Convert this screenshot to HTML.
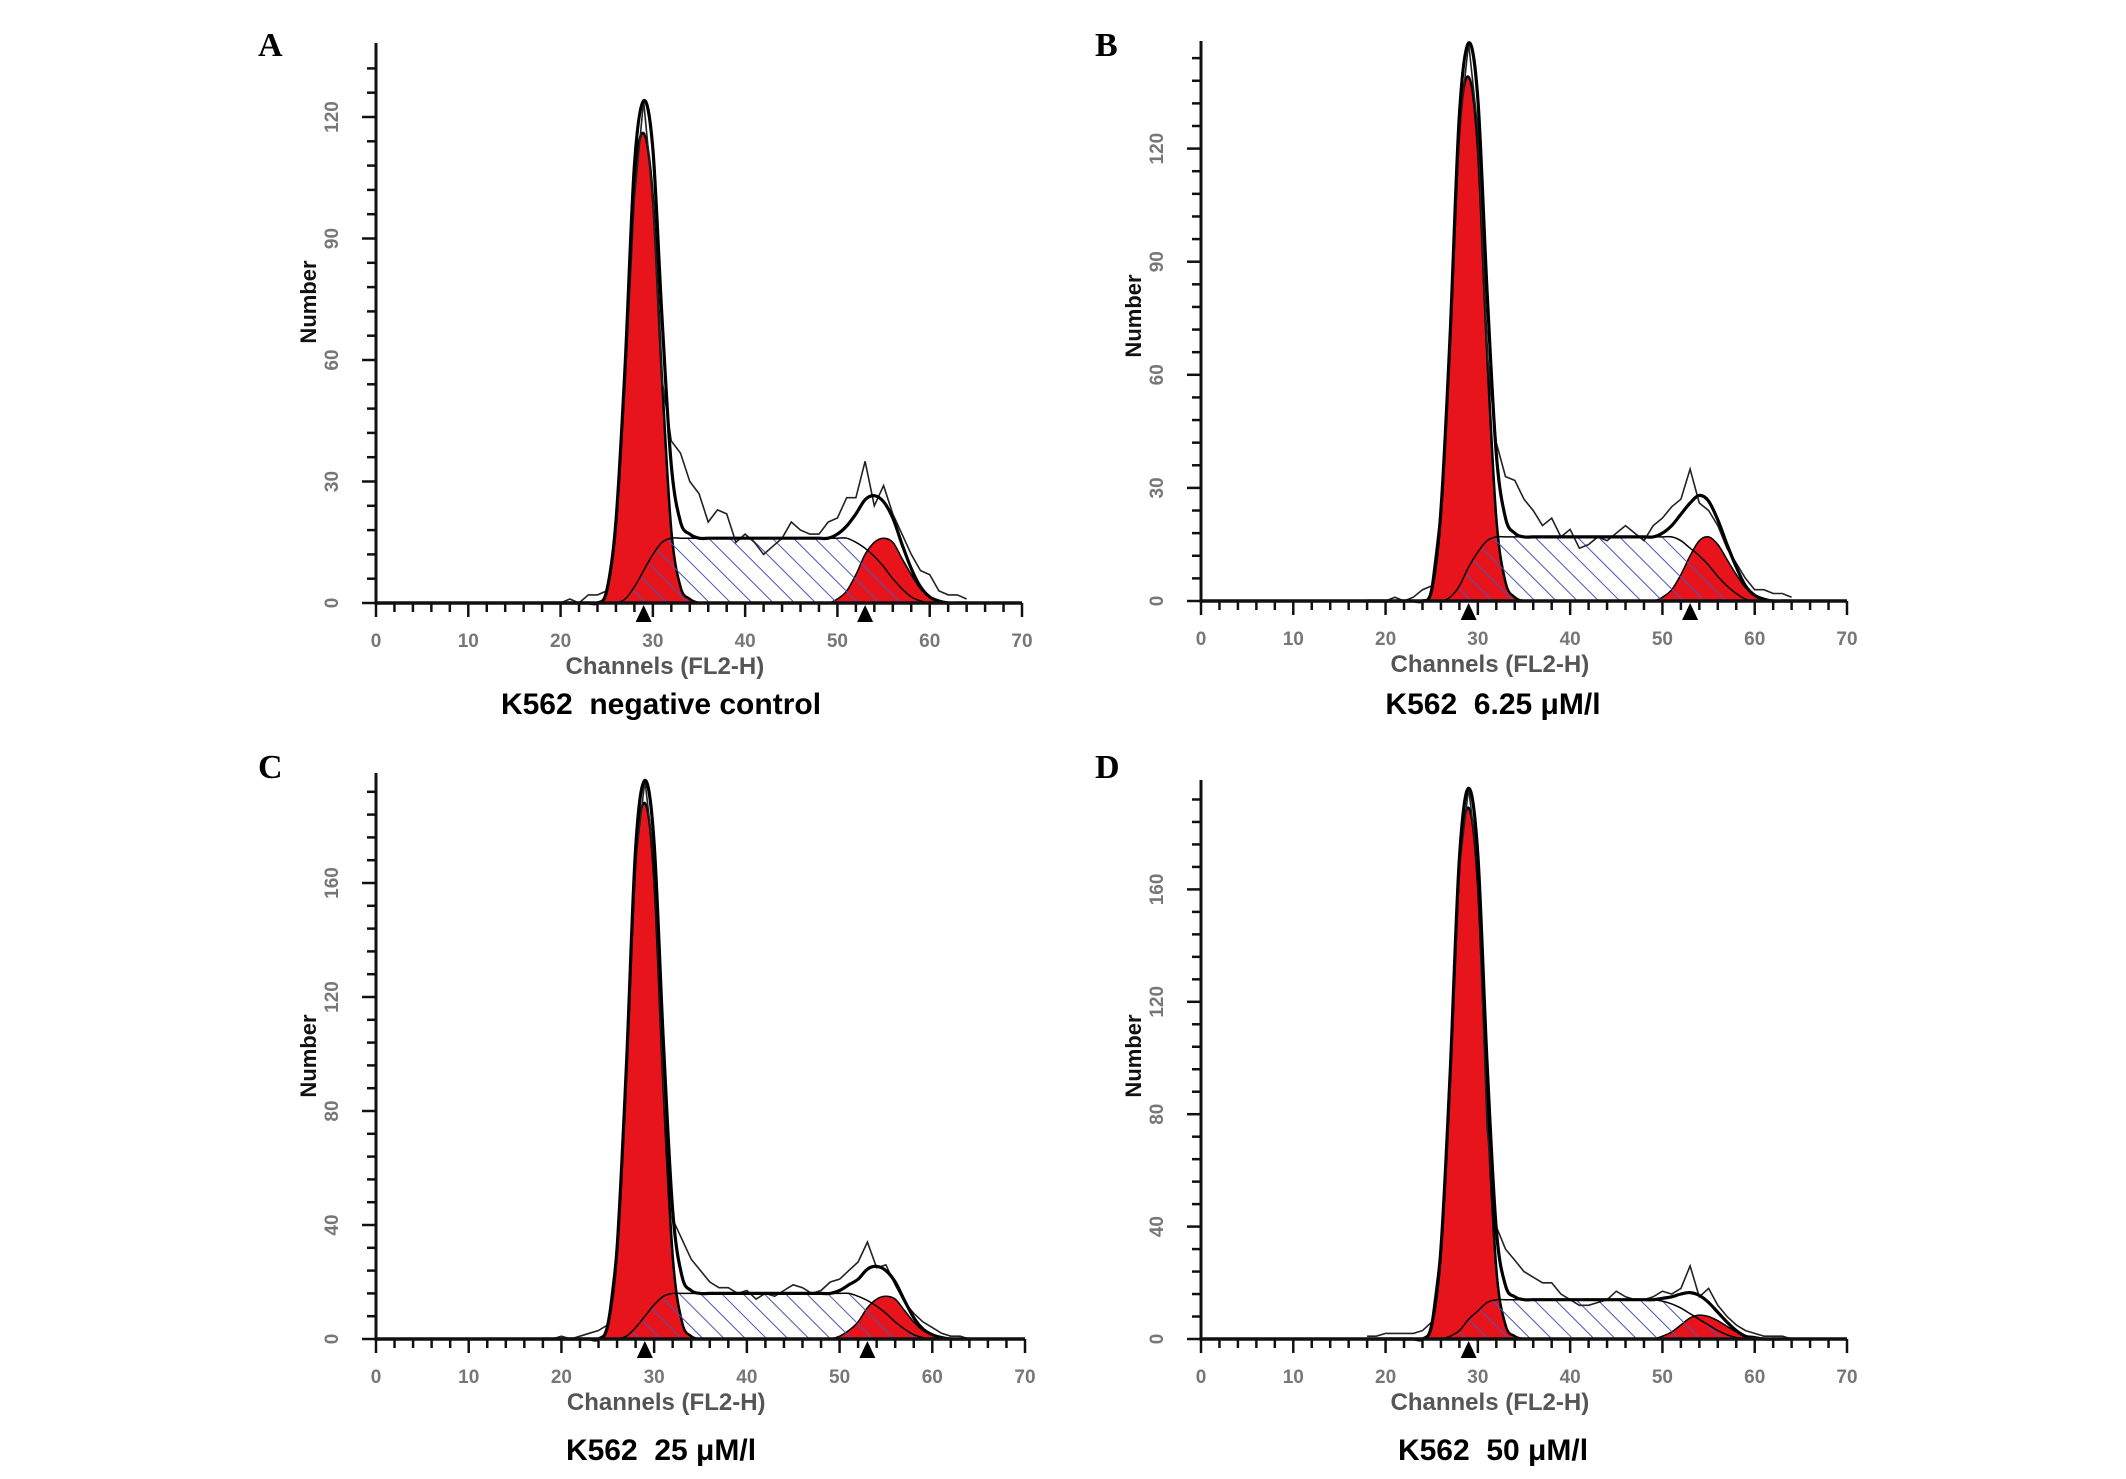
<!DOCTYPE html>
<html><head><meta charset="utf-8"><title>K562 cell cycle histograms</title>
<style>
html,body{margin:0;padding:0;background:#fff;}
svg{display:block;}
</style></head>
<body>
<svg id="fig" width="2126" height="1479" viewBox="0 0 2126 1479" xmlns="http://www.w3.org/2000/svg">
<defs>
<pattern id="hatch" patternUnits="userSpaceOnUse" width="15" height="15" patternTransform="rotate(-45)">
<line x1="0" y1="0" x2="0" y2="15" stroke="#4a55b0" stroke-width="2"/>
</pattern>
</defs>
</svg>
<script>
// Shared channel axis (FL2-H channels 18..64)
const channels = [18,19,20,21,22,23,24,25,26,27,28,29,30,31,32,33,34,35,36,37,38,39,40,41,42,43,44,45,46,47,48,49,50,51,52,53,54,55,56,57,58,59,60,61,62,63,64];
const xTicks = [0,10,20,30,40,50,60,70];
const yTicksAB = [[0,30,60,90,120],[0,30,60,90,120]];
const yTicksCD = [0,40,80,120,160];

// Panel A: negative control
const aRaw = [0,0,0,1,0,2,2,3,18,55,100,124,100,55,40,37,30,27,20,23,22,15,17,15,12,14,16,20,18,17,17,20,21,26,26,35,24,29,22,17,12,8,7,3,2,2,1];
const aG1  = [0,0,0,0,0,0,0,3,20,58,104,116,100,55,18,4,1,0,0,0,0,0,0,0,0,0,0,0,0,0,0,0,0,0,0,0,0,0,0,0,0,0,0,0,0,0,0];
const aS   = [0,0,0,0,0,0,0,0,0,1,4,8,12,15,16,16,16,16,16,16,16,16,16,16,16,16,16,16,16,16,16,16,16,16,15,13.5,11.5,9,6,3.5,1.5,0.5,0,0,0,0,0];
const aG2  = [0,0,0,0,0,0,0,0,0,0,0,0,0,0,0,0,0,0,0,0,0,0,0,0,0,0,0,0,0,0,0,0,1,3,7,12,15,16,15,11,7,3.5,1.5,0.5,0,0,0];

// Panel B: 6.25 uM/l
const bRaw = [0,0,0,1,0,1,3,4,24,70,125,148,125,66,42,33,32,27,24,20,22,17,19,14,15,17,16,18,20,18,16,20,22,25,27,35,26,24,20,14,10,6,3,3,2,2,1];
const bG1  = [0,0,0,0,0,0,0,3,24,70,125,139,120,66,22,5,1,0,0,0,0,0,0,0,0,0,0,0,0,0,0,0,0,0,0,0,0,0,0,0,0,0,0,0,0,0,0];
const bS   = [0,0,0,0,0,0,0,0,0,1,4,9,13,16,17,17,17,17,17,17,17,17,17,17,17,17,17,17,17,17,17,17,17,17,16,14,12,9.5,6.5,4,2,0.5,0,0,0,0,0];
const bG2  = [0,0,0,0,0,0,0,0,0,0,0,0,0,0,0,0,0,0,0,0,0,0,0,0,0,0,0,0,0,0,0,0,1,3,7,12,16,17,15,11,7,3.5,1.5,0.5,0,0,0];

// Panel C: 25 uM/l
const cRaw = [0,0,1,0,1,2,3,5,32,94,168,196,168,89,42,35,28,24,20,18,18,16,17,14,16,15,17,19,18,16,17,20,21,24,27,34,25,26,19,13,9,6,4,2,1,1,0];
const cG1  = [0,0,0,0,0,0,0,5,32,94,168,188,162,89,29,6,1,0,0,0,0,0,0,0,0,0,0,0,0,0,0,0,0,0,0,0,0,0,0,0,0,0,0,0,0,0,0];
const cS   = [0,0,0,0,0,0,0,0,0,1,4,8,12,15,16,16,16,16,16,16,16,16,16,16,16,16,16,16,16,16,16,16,16,16,15,13.5,11.5,9,6,3.5,1.5,0.5,0,0,0,0,0];
const cG2  = [0,0,0,0,0,0,0,0,0,0,0,0,0,0,0,0,0,0,0,0,0,0,0,0,0,0,0,0,0,0,0,0,1,3,6,11,14,15,14,10,6,3,1.5,0.5,0,0,0];

// Panel D: 50 uM/l
const dRaw = [1,1,2,2,2,2,3,6,32,94,168,196,168,75,40,32,28,24,22,20,20,16,14,12,12,13,14,17,15,14,14,15,17,16,18,26,15,18,12,8,5,3,2,1,1,1,0];
const dG1  = [0,0,0,0,0,0,0,5,32,94,168,189,162,85,25,5,1,0,0,0,0,0,0,0,0,0,0,0,0,0,0,0,0,0,0,0,0,0,0,0,0,0,0,0,0,0,0];
const dS   = [0,0,0,0,0,0,0,0,0,1,3,7,10,13,14,14,14,14,14,14,14,14,14,14,14,14,14,14,14,14,14,14,13.5,12.5,11,9,7,5,3,1.5,0.5,0,0,0,0,0,0];
const dG2  = [0,0,0,0,0,0,0,0,0,0,0,0,0,0,0,0,0,0,0,0,0,0,0,0,0,0,0,0,0,0,0,0,1,2.5,5,7.5,8.5,8,6.5,4.5,2.5,1,0.5,0,0,0,0];

const markersA = [29,53], markersB = [29,53], markersC = [29,53], markersD = [29];

const NS = "http://www.w3.org/2000/svg";
const svg = document.getElementById('fig');
function mk(tag, attrs, parent){
  const e = document.createElementNS(NS, tag);
  for (const k in attrs) e.setAttribute(k, attrs[k]);
  (parent||svg).appendChild(e);
  return e;
}
function smoothPath(pts){
  let d = "M" + pts[0][0].toFixed(1) + "," + pts[0][1].toFixed(1);
  for (let i=0;i<pts.length-1;i++){
    const p0=pts[Math.max(0,i-1)], p1=pts[i], p2=pts[i+1], p3=pts[Math.min(pts.length-1,i+2)];
    const c1x=p1[0]+(p2[0]-p0[0])/6, c1y=p1[1]+(p2[1]-p0[1])/6;
    const c2x=p2[0]-(p3[0]-p1[0])/6, c2y=p2[1]-(p3[1]-p1[1])/6;
    d += " C"+c1x.toFixed(1)+","+c1y.toFixed(1)+" "+c2x.toFixed(1)+","+c2y.toFixed(1)+" "+p2[0].toFixed(1)+","+p2[1].toFixed(1);
  }
  return d;
}

function drawPanel(p){
  const g = mk('g', {});
  
  
  const sx = v => p.x0 + (v/70)*(p.x1-p.x0);
  const sy = v => p.y0 - v*p.ppu;
  const pts = arr => channels.map((c,i)=>[sx(c), sy(arr[i])]);
  const area = arr => smoothPath(pts(arr)) + " L"+sx(channels[channels.length-1])+","+p.y0+" L"+sx(channels[0])+","+p.y0+" Z";

  const g1 = mk('path', {d: area(p.g1), fill:'#e8141c', stroke:'#000', 'stroke-width':2.5}, g);
  
  
  const g2 = mk('path', {d: area(p.g2), fill:'#e8141c', stroke:'#000', 'stroke-width':1.5}, g);
  
  
  const sp = mk('path', {d: area(p.s), fill:'url(#hatch)', stroke:'#000', 'stroke-width':1.5}, g);
  
  
  const rawD = "M" + pts(p.raw).map(q=>q[0].toFixed(1)+","+q[1].toFixed(1)).join(" L");
  const raw = mk('path', {d: rawD, fill:'none', stroke:'#222', 'stroke-width':1.6}, g);
  
  
  const tot = p.g1.map((v,i)=>v+p.s[i]+p.g2[i]);
  const fit = mk('path', {d: smoothPath(pts(tot)), fill:'none', stroke:'#000', 'stroke-width':3.2}, g);
  
  

  const xa = mk('line', {x1:p.x0, y1:p.y0, x2:p.x1, y2:p.y0, stroke:'#111', 'stroke-width':3.5}, g);
  
  
  const ya = mk('line', {x1:p.x0, y1:p.y0+2, x2:p.x0, y2:p.top, stroke:'#111', 'stroke-width':3}, g);
  
  
  for (let v=0; v<=70; v+=2){
    const major = v%10===0;
    mk('line', {x1:sx(v), y1:p.y0, x2:sx(v), y2:p.y0+(major?14:9), stroke:'#111', 'stroke-width':2.5}, g);
  }
  xTicks.forEach(v=>{
    const t = mk('text', {x:sx(v), y:p.y0+44, 'text-anchor':'middle', 'font-family':'Liberation Sans, sans-serif', 'font-size':19, 'font-weight':'bold', fill:'#777'}, g);
    t.textContent = v;
    
    
  });
  const step = p.yTicks[1]/5;
  for (let v=0; sy(v) >= p.top+2; v+=step){
    const major = Math.abs(v % p.yTicks[1]) < 1e-6;
    mk('line', {x1:p.x0, y1:sy(v), x2:p.x0-(major?14:9), y2:sy(v), stroke:'#111', 'stroke-width':2.5}, g);
  }
  p.yTicks.forEach(v=>{
    const tx = p.x0-38, ty = sy(v);
    const t = mk('text', {x:tx, y:ty, transform:'rotate(-90 '+tx+' '+ty+')', 'text-anchor':'middle', 'font-family':'Liberation Sans, sans-serif', 'font-size':19, 'font-weight':'bold', fill:'#777'}, g);
    t.textContent = v;
    
    
  });
  p.markers.forEach(m=>{
    const x = sx(m), y = p.y0+2;
    const tri = mk('path', {d:'M'+(x-8)+','+(y+17)+' L'+x+','+(y)+' L'+(x+8)+','+(y+17)+' Z', fill:'#000'}, g);
    
    
  });
  const xt = mk('text', {x:sx(31.3), y:p.y0+71, 'text-anchor':'middle', 'font-family':'Liberation Sans, sans-serif', 'font-size':24, 'font-weight':'bold', fill:'#555'}, g);
  xt.textContent = 'Channels (FL2-H)';
  
  
  const ny = p.numberY, nx = p.x0-60;
  const yt = mk('text', {x:nx, y:ny, transform:'rotate(-90 '+nx+' '+ny+')', 'text-anchor':'middle', 'font-family':'Liberation Sans, sans-serif', 'font-size':22, 'font-weight':'bold', fill:'#111'}, g);
  yt.textContent = 'Number';
  
  
  const cap = mk('text', {x:p.capX, y:p.capY, 'text-anchor':'middle', 'font-family':'Liberation Sans, sans-serif', 'font-size':30, 'font-weight':'bold', fill:'#000'}, g);
  cap.textContent = p.caption;
  
  
  const lt = mk('text', {x:p.letterX, y:p.letterY, 'font-family':'Liberation Serif, serif', 'font-size':34, 'font-weight':'bold', fill:'#000'}, g);
  lt.textContent = p.id.toUpperCase();
  
  
}

drawPanel({id:'a', x0:376, x1:1022, y0:603, ppu:4.05, top:43, yTicks:yTicksAB[0], raw:aRaw, g1:aG1, s:aS, g2:aG2, markers:markersA, numberY:302, caption:'K562\u00a0\u00a0negative control', capX:661, capY:714, letterX:258, letterY:56});
drawPanel({id:'b', x0:1201, x1:1847, y0:601, ppu:3.77, top:41, yTicks:yTicksAB[1], raw:bRaw, g1:bG1, s:bS, g2:bG2, markers:markersB, numberY:316, caption:'K562\u00a0\u00a06.25 \u03bcM/l', capX:1493, capY:714, letterX:1095, letterY:56});
drawPanel({id:'c', x0:376, x1:1025, y0:1339, ppu:2.85, top:773, yTicks:yTicksCD, raw:cRaw, g1:cG1, s:cS, g2:cG2, markers:markersC, numberY:1056, caption:'K562\u00a0\u00a025 \u03bcM/l', capX:661, capY:1460, letterX:258, letterY:778});
drawPanel({id:'d', x0:1201, x1:1847, y0:1339, ppu:2.81, top:780, yTicks:yTicksCD, raw:dRaw, g1:dG1, s:dS, g2:dG2, markers:markersD, numberY:1056, caption:'K562\u00a0\u00a050 \u03bcM/l', capX:1493, capY:1460, letterX:1095, letterY:778});
</script>
</body></html>
